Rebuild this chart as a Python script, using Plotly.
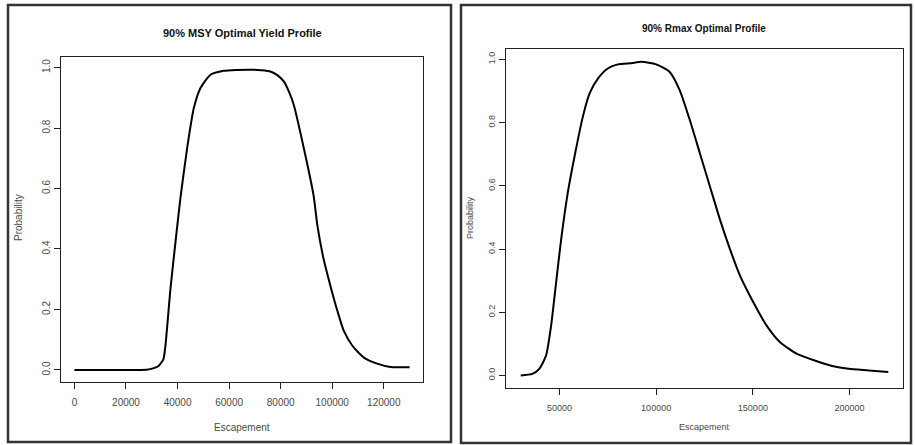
import plotly.graph_objects as go

# --- data -------------------------------------------------------------
msy_escapement = [0, 10000, 20000, 28000, 30800, 32500, 34500, 35300, 37250,
                  39200, 41100, 43700, 46300, 48900, 52800, 57900, 63000,
                  68300, 72500, 76000, 78700, 81200, 83200, 85100, 89000,
                  92800, 94200, 96700, 99300, 101900, 104500, 107800, 112300,
                  117400, 122600, 126000, 130000]
msy_probability = [0.0, 0.0, 0.0, 0.001, 0.006, 0.012, 0.035, 0.080, 0.268,
                   0.423, 0.567, 0.732, 0.865, 0.932, 0.976, 0.989, 0.992,
                   0.993, 0.991, 0.987, 0.975, 0.954, 0.920, 0.876, 0.732,
                   0.575, 0.480, 0.365, 0.278, 0.198, 0.129, 0.080, 0.041,
                   0.021, 0.010, 0.009, 0.009]

rmax_escapement = [30000, 36000, 39600, 43100, 45700, 48300, 50900, 54300,
                   57800, 62100, 65600, 69900, 75000, 80200, 87200, 92400,
                   100000, 107000, 112200, 117400, 122600, 127800, 133000,
                   138200, 143400, 150300, 157200, 164100, 172800, 183100,
                   191000, 199500, 209900, 220000]
rmax_probability = [0.0, 0.005, 0.021, 0.063, 0.157, 0.294, 0.430, 0.577,
                    0.692, 0.818, 0.892, 0.939, 0.971, 0.984, 0.988, 0.992,
                    0.984, 0.960, 0.902, 0.808, 0.703, 0.598, 0.493, 0.399,
                    0.315, 0.231, 0.157, 0.105, 0.068, 0.045, 0.030, 0.021,
                    0.016, 0.011]

msy_xticks = [0, 20000, 40000, 60000, 80000, 100000, 120000]
rmax_xticks = [50000, 100000, 150000, 200000]
prob_ticks = [0.0, 0.2, 0.4, 0.6, 0.8, 1.0]

titles = ["90% MSY Optimal Yield Profile", "90% Rmax Optimal Profile"]
x_label = "Escapement"
y_label = "Probability"

# --- page geometry (pixels) ------------------------------------------
W, H = 915, 445


def px(x):
    return x / W


def py(y):
    return 1 - y / H


FONT = "Liberation Sans, Arial, Helvetica, sans-serif"
TICK_COLOR = "#4a4a4a"

fig = go.Figure()

fig.add_trace(go.Scatter(x=msy_escapement, y=msy_probability, mode="lines",
                         line=dict(color="black", width=2, shape="spline",
                                   smoothing=0.6),
                         xaxis="x", yaxis="y", showlegend=False))
fig.add_trace(go.Scatter(x=rmax_escapement, y=rmax_probability, mode="lines",
                         line=dict(color="black", width=2, shape="spline",
                                   smoothing=0.6),
                         xaxis="x2", yaxis="y2", showlegend=False))

axis_common = dict(showgrid=False, zeroline=False, showline=True, mirror=True,
                   linecolor="#222", linewidth=1.4, ticks="outside", ticklen=6,
                   tickcolor="#222", tickwidth=1)


def pad(lo, hi):
    d = (hi - lo) * 0.04
    return [lo - d, hi + d]


fig.update_layout(
    width=W, height=H,
    margin=dict(l=0, r=0, t=0, b=0),
    paper_bgcolor="white", plot_bgcolor="white",
    xaxis=dict(domain=[px(61), px(423)], anchor="y",
               range=pad(0, 130000), tickvals=msy_xticks,
               ticktext=[str(v) for v in msy_xticks], ticklabelstandoff=5,
               tickfont=dict(family=FONT, size=10, color=TICK_COLOR),
               **axis_common),
    yaxis=dict(domain=[py(382), py(57)], anchor="x",
               range=pad(0, 0.995), tickvals=prob_ticks,
               ticktext=[f"{v:.1f}" for v in prob_ticks], tickangle=-90,
               tickfont=dict(family=FONT, size=10, color=TICK_COLOR),
               **axis_common),
    xaxis2=dict(domain=[px(506), px(903)], anchor="y2",
                range=pad(30000, 220000), tickvals=rmax_xticks,
                ticktext=[str(v) for v in rmax_xticks], ticklabelstandoff=5,
                tickfont=dict(family=FONT, size=9, color=TICK_COLOR),
                **axis_common),
    yaxis2=dict(domain=[py(388), py(49)], anchor="x2",
                range=pad(0, 0.993), tickvals=prob_ticks,
                ticktext=[f"{v:.1f}" for v in prob_ticks], tickangle=-90,
                tickfont=dict(family=FONT, size=9, color=TICK_COLOR),
                **axis_common),
)

# outer panel frames
for x0, x1, y0, y1 in [(8, 451, 5, 442), (461, 911, 5, 443)]:
    fig.add_shape(type="rect", xref="paper", yref="paper",
                  x0=px(x0), x1=px(x1), y0=py(y1), y1=py(y0),
                  line=dict(color="#333", width=2.5))

annotations = [
    dict(text=f"<b>{titles[0]}</b>", x=px(242), y=py(33),
         font=dict(size=11, color="#111")),
    dict(text=f"<b>{titles[1]}</b>", x=px(704), y=py(29),
         font=dict(size=10, color="#111")),
    dict(text=x_label, x=px(242), y=py(427),
         font=dict(size=10, color=TICK_COLOR)),
    dict(text=x_label, x=px(704), y=py(427),
         font=dict(size=9, color=TICK_COLOR)),
    dict(text=y_label, x=px(18), y=py(218), textangle=-90,
         font=dict(size=10, color=TICK_COLOR)),
    dict(text=y_label, x=px(470), y=py(218), textangle=-90,
         font=dict(size=9, color=TICK_COLOR)),
]
for a in annotations:
    a["font"]["family"] = FONT
    fig.add_annotation(xref="paper", yref="paper", showarrow=False,
                       xanchor="center", yanchor="middle", **a)

fig.write_html("out.html")
